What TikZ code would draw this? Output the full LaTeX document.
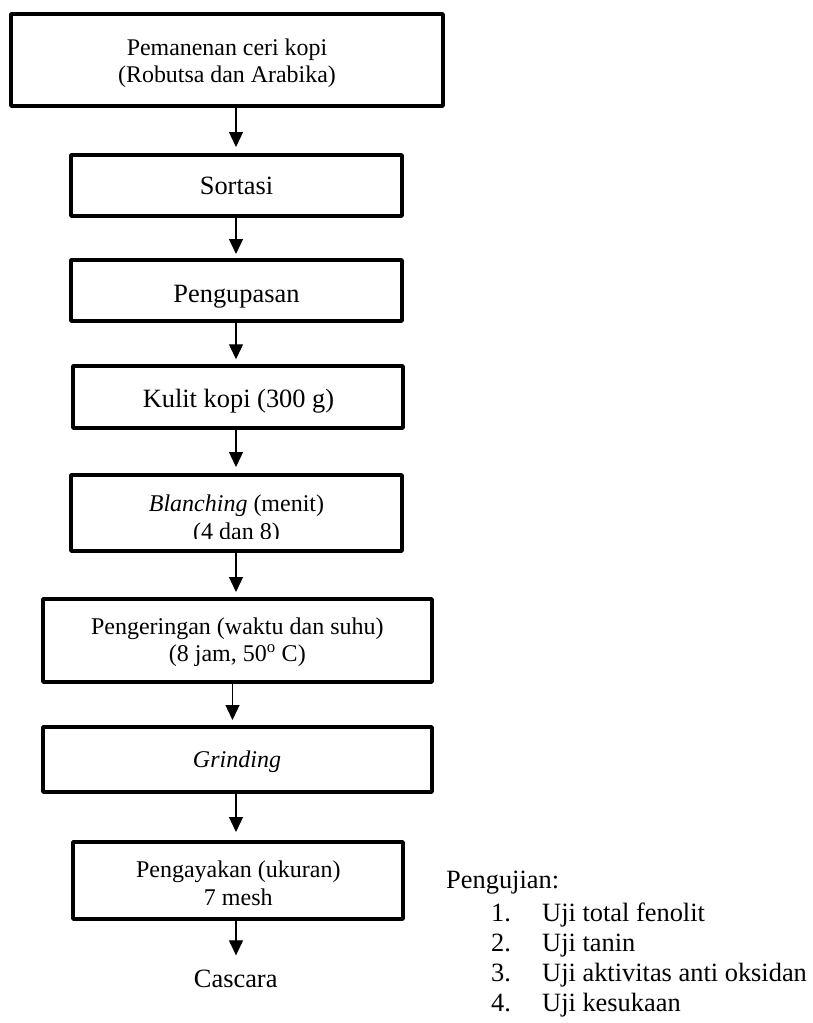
\documentclass[tikz,border=0pt]{standalone}
\usepackage{fontspec}
\setmainfont{Liberation Serif}
\usetikzlibrary{arrows.meta,calc}
\begin{document}
\begin{tikzpicture}[x=1pt,y=-1pt,
  box/.style={draw, line width=4.3pt, line join=round, inner sep=0pt},
  lbl/.style={inner sep=0pt, anchor=base},
  lbw/.style={inner sep=0pt, anchor=base west},
  fa/.style={font=\fontsize{23.9}{27.6}\selectfont},
  fb/.style={font=\fontsize{26.4}{30}\selectfont},
  fc/.style={font=\fontsize{24}{27.6}\selectfont},
  arr/.style={line width=1.3pt, -{Triangle[width=14pt,length=15pt]}}]
\useasboundingbox (0,0) rectangle (812,1023);
% column of the arrows
\coordinate (ax) at (236,0);
\coordinate (bx) at (232.5,0);
% boxes
\node[box, minimum width=431.7pt, minimum height=91.7pt] (b1) at (227,60) {};
\node[box, minimum width=330.7pt, minimum height=60.7pt] (b2) at (236.5,185.5) {};
\node[box, minimum width=330.7pt, minimum height=60.7pt] (b3) at (236.5,290.5) {};
\node[box, minimum width=329.7pt, minimum height=61.7pt] (b4) at (238,397) {};
\node[box, minimum width=330.7pt, minimum height=75.7pt] (b5) at (236.5,513) {};
\node[box, minimum width=388.7pt, minimum height=82.7pt] (b6) at (237.5,640.5) {};
\node[box, minimum width=388.7pt, minimum height=64.7pt] (b7) at (237.5,759.5) {};
\node[box, minimum width=329.7pt, minimum height=76.7pt] (b8) at (238,880.5) {};
% texts
\node[lbl,fa] (t1a) at (227,55) {Pemanenan ceri kopi};
\node[lbl,fa] (t1b) at (227,82.6) {(Robutsa dan Arabika)};
\node[lbl,fb] (t2) at (236.5,194.2) {Sortasi};
\node[lbl,fb] (t3) at (236.5,302.5) {Pengupasan};
\node[lbl,fb] (t4) at (238.5,407.5) {Kulit kopi (300 g)};
\begin{scope}
\clip (69,473) rectangle (404,538.5);
\node[lbl,fc] (t5a) at (236.5,511) {\textit{Blanching} (menit)};
\node[lbl,fc] (t5b) at (236.5,539) {(4 dan 8)};
\end{scope}
\node[lbl,fc] (t6a) at (237.3,634.2) {Pengeringan (waktu dan suhu)};
\node[lbl,fc] (t6b) at (237.3,661.8) {(8 jam, 50\textsuperscript{o} C)};
\node[lbl,fc] (t7) at (237,767.6) {\textit{Grinding}};
\node[lbl,fc] (t8a) at (238.3,877.6) {Pengayakan (ukuran)};
\node[lbl,fc] (t8b) at (238.3,905.2) {7 mesh};
\node[lbl,fb] (casc) at (235.7,987.5) {Cascara};
% testing list
\node[lbw,fb] (pj) at (446,888) {Pengujian:};
\node[lbw,fb] (n1) at (491,921.7) {1.};
\node[lbw,fb] (n2) at (491,951.7) {2.};
\node[lbw,fb] (n3) at (491,981.7) {3.};
\node[lbw,fb] (n4) at (491,1011.7) {4.};
\node[lbw,fb] (u1) at (542,921.7) {Uji total fenolit};
\node[lbw,fb] (u2) at (542,951.7) {Uji tanin};
\node[lbw,fb] (u3) at (542,981.7) {Uji aktivitas anti oksidan};
\node[lbw,fb] (u4) at (542,1011.7) {Uji kesukaan};
% arrows
\draw[arr, shorten >=6pt] (b1.south -| ax) -- (b2.north -| ax);
\draw[arr, shorten >=4pt] (b2.south -| ax) -- (b3.north -| ax);
\draw[arr, shorten >=4.7pt] (b3.south -| ax) -- (b4.north -| ax);
\draw[arr, shorten >=6pt] (b4.south -| ax) -- (b5.north -| ax);
\draw[arr, shorten >=5pt] (b5.south -| ax) -- (b6.north -| ax);
\draw[arr, shorten >=5pt] (b6.south -| bx) -- (b7.north -| bx);
\draw[arr, shorten >=8pt] (b7.south -| ax) -- (b8.north -| ax);
\draw[arr, shorten >=14.5pt] (b8.south -| ax) -- (casc.north -| ax);
\end{tikzpicture}
\end{document}
